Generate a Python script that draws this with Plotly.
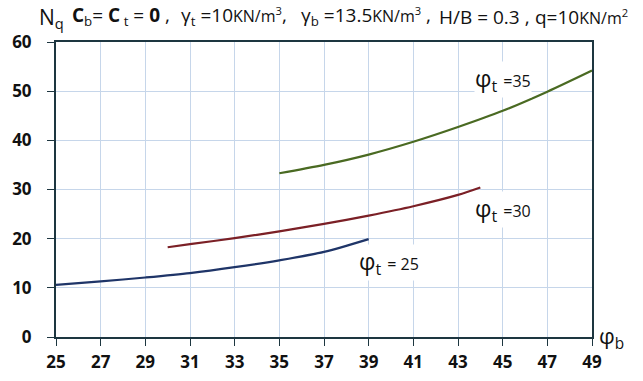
import plotly.graph_objects as go

# Data
phi_b_25 = [25, 27, 29, 31, 33, 35, 37, 39]
nq_25 = [10.6, 11.3, 12.1, 13.0, 14.2, 15.6, 17.3, 19.9]

phi_b_30 = [30, 31, 33, 35, 37, 39, 41, 43, 44]
nq_30 = [18.25, 18.9, 20.1, 21.5, 23.0, 24.7, 26.6, 28.9, 30.4]

phi_b_35 = [35, 37, 39, 41, 43, 45, 47, 49]
nq_35 = [33.3, 35.0, 37.1, 39.7, 42.7, 46.0, 49.9, 54.2]

x_ticks = [25, 27, 29, 31, 33, 35, 37, 39, 41, 43, 45, 47, 49]
y_ticks = [0, 10, 20, 30, 40, 50, 60]

fig = go.Figure()
fig.add_trace(go.Scatter(x=phi_b_25, y=nq_25, mode="lines", line=dict(color="#1f3568", width=2.2, shape="spline", smoothing=0.8), showlegend=False))
fig.add_trace(go.Scatter(x=phi_b_30, y=nq_30, mode="lines", line=dict(color="#7b2026", width=2.2, shape="spline", smoothing=0.8), showlegend=False))
fig.add_trace(go.Scatter(x=phi_b_35, y=nq_35, mode="lines", line=dict(color="#4a6a22", width=2.2, shape="spline", smoothing=0.8), showlegend=False))

axis_common = dict(
    showgrid=True, gridcolor="#c6d6ea", gridwidth=1,
    showline=True, linecolor="#1d3640", linewidth=2, mirror=True,
    ticks="outside", tickcolor="#1d3640", ticklen=7,
    zeroline=False, automargin=False,
    tickfont=dict(family="Open Sans", size=17, color="#111111", weight="bold"),
)

fig.update_xaxes(range=[25, 49], tickvals=x_ticks, ticktext=[str(v) for v in x_ticks], ticklabelstandoff=2, **axis_common)
fig.update_yaxes(range=[0, 60], tickvals=y_ticks, ticktext=[str(v) for v in y_ticks], ticklabelstandoff=12, **axis_common)

font_main = dict(family="Open Sans", color="#111111")
u = "<span style='font-size:16px'>KN/m<sup>%s</sup></span>"

# paper x coordinates measured relative to the plot area (56..592)
def paper_x(pix):
    return (pix - 56.0) / (592.0 - 56.0)

title_parts = [
    (70, "<b>C</b><sub>b</sub>= <b>C</b><sub> t</sub> = <b>0</b> ,"),
    (179, "γ<sub>t</sub> =10" + (u % "3") + ","),
    (299, "γ<sub>b</sub> =13.5" + (u % "3") + " ,"),
    (437, "H/B = 0.3 ,"),
    (533, "q=10" + (u % "2")),
]

anns = [
    dict(xref="paper", yref="paper", x=paper_x(37), y=1.025, xanchor="left", yanchor="bottom",
         text="N<sub>q</sub>", font=dict(size=21, **font_main)),
]
for pos, txt in title_parts:
    anns.append(dict(xref="paper", yref="paper", x=paper_x(pos), y=1.035, xanchor="left", yanchor="bottom",
                     text=txt, font=dict(size=19, **font_main)))

anns += [
    dict(xref="paper", yref="paper", x=1.01, y=0.0, xanchor="left", yanchor="middle",
         text="φ<sub>b</sub>", font=dict(size=22, **font_main)),
    dict(x=45.0, y=52.4, xanchor="center", yanchor="middle", borderpad=0,
         text="φ<sub>t</sub> <span style='font-size:16px'>=35</span>", font=dict(size=23, **font_main), bgcolor="white"),
    dict(x=45.0, y=25.9, xanchor="center", yanchor="middle", borderpad=0,
         text="φ<sub>t</sub> <span style='font-size:16px'>=30</span>", font=dict(size=23, **font_main), bgcolor="white"),
    dict(x=39.9, y=15.2, xanchor="center", yanchor="middle", borderpad=0,
         text="φ<sub>t</sub> <span style='font-size:16px'>= 25</span>", font=dict(size=23, **font_main), bgcolor="white"),
]
for a in anns:
    a.setdefault("showarrow", False)
fig.update_layout(
    width=643, height=381,
    margin=dict(l=56, r=51, t=42, b=44),
    paper_bgcolor="white", plot_bgcolor="white",
    annotations=anns,
)
fig.write_html("out.html")
